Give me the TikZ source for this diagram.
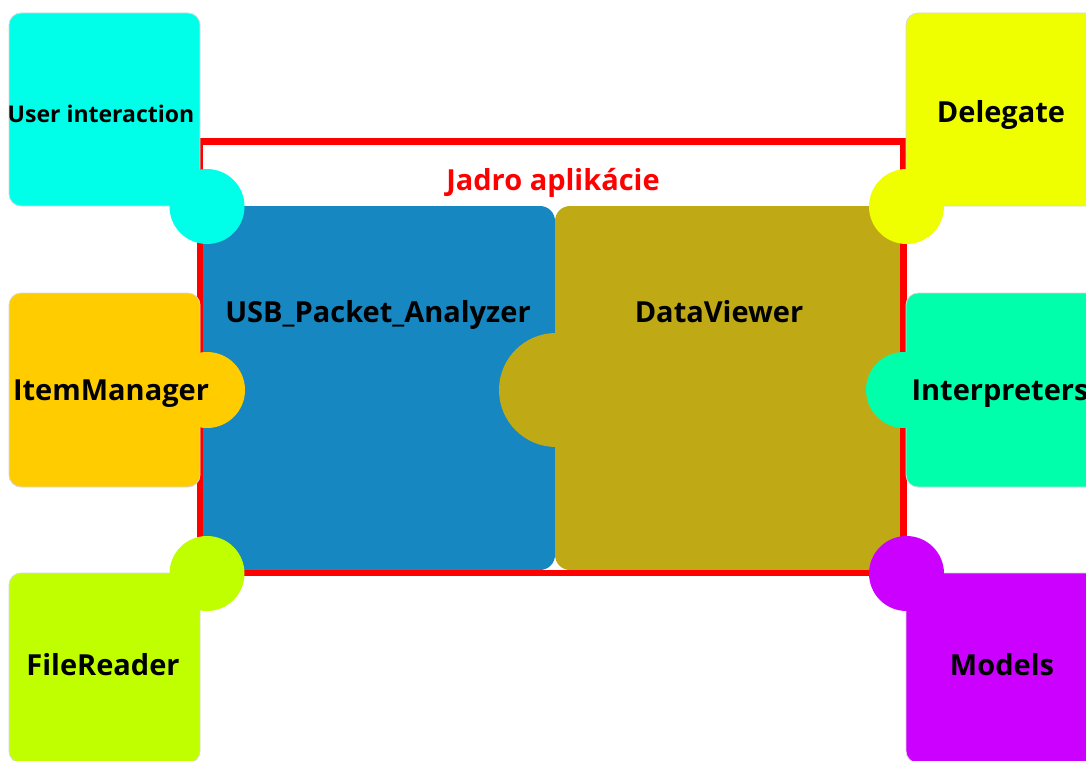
\documentclass[tikz,border=0pt]{standalone}
\usepackage{fontspec}
\setmainfont{Open Sans}
\definecolor{cuser}{HTML}{00FFE8}
\definecolor{cdelegate}{HTML}{F0FF00}
\definecolor{citem}{HTML}{FFCC00}
\definecolor{cinterp}{HTML}{00FFAA}
\definecolor{cfile}{HTML}{BFFF00}
\definecolor{cmodels}{HTML}{CC00FF}
\definecolor{cusb}{HTML}{1787C2}
\definecolor{cviewer}{HTML}{BFAA15}
\definecolor{cframe}{HTML}{FF0000}
\definecolor{cedge}{HTML}{D8D8D8}
\begin{document}
\begin{tikzpicture}[x=1pt,y=-1pt,
  piece/.style={rectangle, rounded corners=12pt, inner sep=0pt, draw=cedge, line width=0.8pt},
  core/.style={rectangle, rounded corners=15pt, inner sep=0pt},
  knob/.style={circle, inner sep=0pt},
  lbl/.style={font=\bfseries\fontsize{29}{32}\selectfont, text=black, inner sep=0pt, anchor=base},
  small/.style={font=\bfseries\fontsize{23}{26}\selectfont}]
\useasboundingbox (0,0) rectangle (1086,760);
\clip (0,0) rectangle (1086,760);

% application core
\node[core, fill=cusb, minimum width=352pt, minimum height=364pt] (usb) at (379,388) {};
\node[core, fill=cviewer, minimum width=348pt, minimum height=364pt] (viewer) at (729,388) {};
\node[knob, fill=cviewer, minimum size=114pt] (viewerknob) at (556,390) {};
\node[draw=cframe, line width=6.5pt, rectangle, inner sep=0pt,
      minimum width=703.5pt, minimum height=431.5pt] (frame) at (551.75,357.25) {};

% surrounding modules
\node[piece, fill=cuser, minimum width=191pt, minimum height=193pt] (user) at (104.5,109.5) {};
\node[piece, fill=citem, minimum width=191pt, minimum height=194pt] (item) at (104.5,390) {};
\node[piece, fill=cfile, minimum width=191pt, minimum height=190pt] (file) at (104.5,668) {};
\node[piece, fill=cdelegate, minimum width=200pt, minimum height=193pt] (delegate) at (1006,109.5) {};
\node[piece, fill=cinterp, minimum width=200pt, minimum height=194pt] (interp) at (1006,390) {};
\node[piece, fill=cmodels, minimum width=200pt, minimum height=190pt] (models) at (1006,668) {};

\node[knob, fill=cuser, minimum size=75pt] (userknob) at (207,206.5) {};
\node[knob, fill=citem, minimum size=76pt] (itemknob) at (207,390) {};
\node[knob, fill=cfile, minimum size=75pt] (fileknob) at (207,573.5) {};
\node[knob, fill=cdelegate, minimum size=75pt] (delegateknob) at (906.5,206.5) {};
\node[knob, fill=cinterp, minimum size=76pt] (interpknob) at (904,390) {};
\node[knob, fill=cmodels, minimum size=75pt] (modelsknob) at (906.5,573.5) {};

% labels (placed on their baselines)
\node[lbl, text=cframe] (title) at (553,190) {Jadro aplikácie};
\node[lbl] (usblbl) at (378,322) {USB\_Packet\_Analyzer};
\node[lbl] (viewerlbl) at (719,322) {DataViewer};
\node[lbl, small] (userlbl) at (101,122.5) {User interaction};
\node[lbl] (itemlbl) at (111,400) {ItemManager};
\node[lbl] (filelbl) at (103,675) {FileReader};
\node[lbl] (delegatelbl) at (1001,122) {Delegate};
\node[lbl] (interplbl) at (1000,400) {Interpreters};
\node[lbl] (modelslbl) at (1002,675) {Models};
\end{tikzpicture}
\end{document}
